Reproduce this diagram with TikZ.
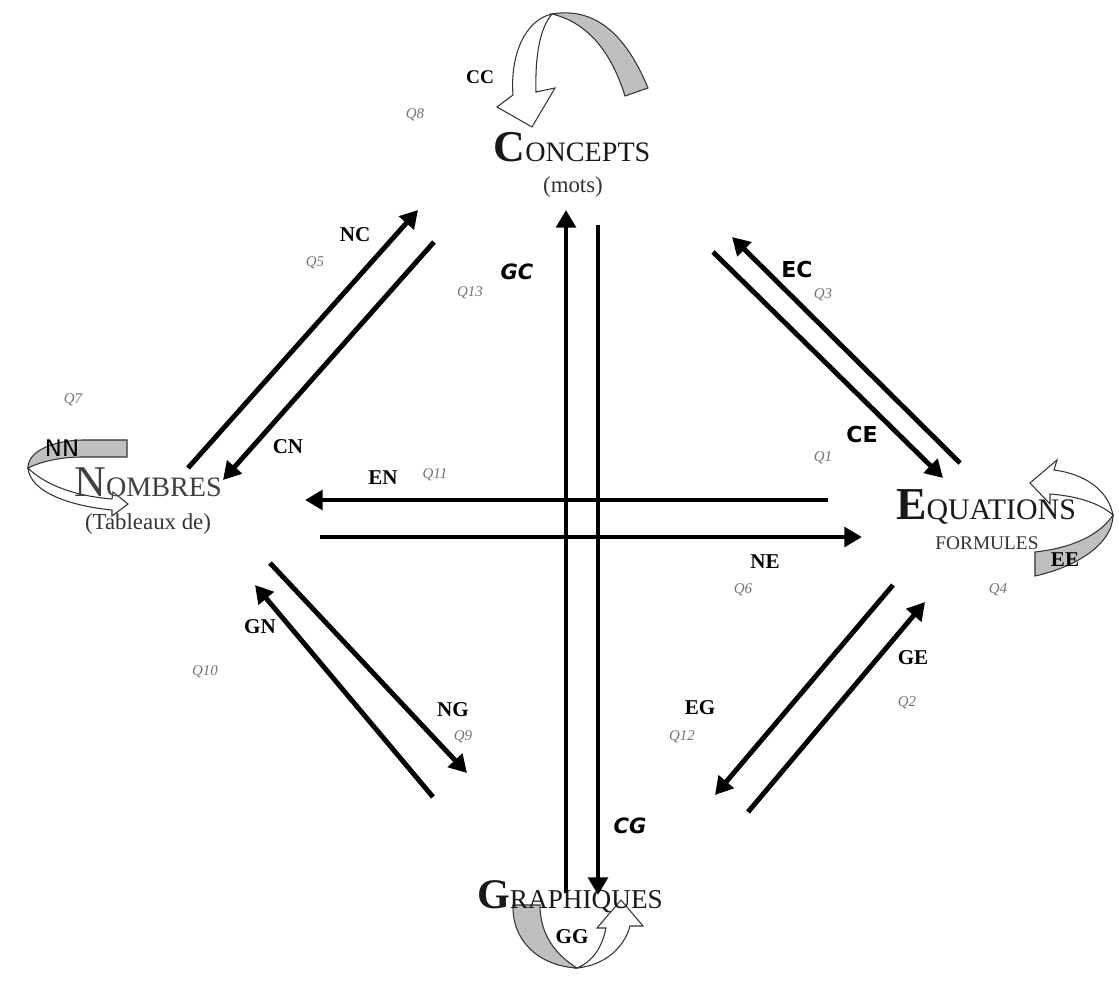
\documentclass[tikz,border=0pt]{standalone}
\usepackage{fontspec}
\setmainfont{Liberation Serif}
\newfontfamily\comicf{DejaVu Sans}
\usetikzlibrary{arrows.meta}
\begin{document}
\begin{tikzpicture}[x=0.02cm,y=-0.02cm,
  conn/.style={line width=2.8pt,-{Triangle[length=10pt,width=11pt]}},
  qlab/.style={inner sep=0pt,font=\fontsize{8.5}{9}\selectfont\itshape,text=black!55},
  blab/.style={inner sep=0pt,font=\fontsize{12}{12}\selectfont\bfseries},
  slab/.style={inner sep=0pt,font=\comicf\bfseries\fontsize{12.5}{12.5}\selectfont},
  olab/.style={inner sep=0pt,font=\comicf\bfseries\itshape\fontsize{12}{12}\selectfont},
  title/.style={inner sep=0pt,anchor=base,text=black!90},
  sub/.style={inner sep=0pt,anchor=base,text=black!80},
  backband/.style={fill=black!25,draw=black!80,line width=0.6pt},
  frontband/.style={fill=white,draw=black!80,line width=0.6pt}]
\useasboundingbox (0,0) rectangle (1119,996);
\fill[white] (0,0) rectangle (1119,996);

% ---- looping arrows
% CC
\path[backband] (648,88) .. controls (622,25) and (588,8) .. (552,14)
   .. controls (585,22) and (610,48) .. (625,96) -- cycle;
\path[frontband] (552,14) .. controls (525,20) and (510,55) .. (513,95)
   -- (497,107) -- (532,127) -- (555,88) -- (536,92)
   .. controls (535,55) and (540,28) .. (552,14) -- cycle;
% NN
\path[backband] (127,440) -- (82,440) .. controls (50,441) and (28,452) .. (28,468)
   .. controls (40,462) and (60,457) .. (82,457) -- (127,457) -- cycle;
\path[frontband] (28,468) .. controls (30,492) and (70,506) .. (112,510)
   -- (112,516) -- (128,504) -- (113,492) -- (112,499)
   .. controls (75,496) and (45,485) .. (28,468) -- cycle;
% EE
\path[frontband] (1030,483) -- (1057,460) -- (1054,470)
   .. controls (1085,474) and (1108,490) .. (1113,515)
   .. controls (1098,502) and (1075,496) .. (1050,494) -- (1050,504) -- cycle;
\path[backband] (1113,515) .. controls (1113,542) and (1080,566) .. (1035,576)
   -- (1035,552) .. controls (1072,548) and (1100,535) .. (1113,515) -- cycle;
% GG
\path[backband] (513,905) .. controls (512,942) and (540,966) .. (577,968)
   .. controls (556,955) and (540,935) .. (540,905) -- cycle;
\path[frontband] (577,968) .. controls (605,965) and (624,948) .. (630,926)
   -- (643,926) -- (621,900) -- (597,928) -- (606,928)
   .. controls (602,948) and (592,962) .. (577,968) -- cycle;

% ---- main nodes
\node[title] (C) at (572,162) {{\fontsize{25}{25}\selectfont\bfseries C}{\fontsize{16}{16}\selectfont ONCEPTS}};
\node[sub,font=\fontsize{13}{13}\selectfont] (Cs) at (573,193) {(mots)};
\node[title,text=black!75] (N) at (148,497) {{\fontsize{25}{25}\selectfont N}{\fontsize{16}{16}\selectfont OMBRES}};
\node[sub,font=\fontsize{13}{13}\selectfont] (Ns) at (148,530) {(Tableaux de)};
\node[title] (E) at (986,520) {{\fontsize{26}{26}\selectfont\bfseries E}{\fontsize{17}{17}\selectfont QUATIONS}};
\node[sub,font=\fontsize{11}{11}\selectfont] (Es) at (987,550) {FORMULES};
\node[title] (G) at (570,908) {{\fontsize{24}{24}\selectfont\bfseries G}{\fontsize{15.5}{15.5}\selectfont RAPHIQUES}};

% ---- arrow end points
\coordinate (nc1) at (188,468); \coordinate (nc2) at (418,210);
\coordinate (cn1) at (434,242); \coordinate (cn2) at (223,480);
\coordinate (ec1) at (960,463); \coordinate (ec2) at (732,237);
\coordinate (ce1) at (713,252); \coordinate (ce2) at (943,478);
\coordinate (ng1) at (270,563); \coordinate (ng2) at (467,773);
\coordinate (gn1) at (433,797); \coordinate (gn2) at (255,585);
\coordinate (eg1) at (893,585); \coordinate (eg2) at (715,795);
\coordinate (ge1) at (748,812); \coordinate (ge2) at (925,602);
\coordinate (gc1) at (566,893); \coordinate (gc2) at (566,210);
\coordinate (cg1) at (598,225); \coordinate (cg2) at (598,895);
\coordinate (en1) at (828,500); \coordinate (en2) at (305,500);
\coordinate (ne1) at (320,537); \coordinate (ne2) at (862,537);

\draw[conn] (nc1) -- (nc2);
\draw[conn] (cn1) -- (cn2);
\draw[conn] (ec1) -- (ec2);
\draw[conn] (ce1) -- (ce2);
\draw[conn] (ng1) -- (ng2);
\draw[conn] (gn1) -- (gn2);
\draw[conn] (eg1) -- (eg2);
\draw[conn] (ge1) -- (ge2);
\draw[conn] (gc1) -- (gc2);
\draw[conn] (cg1) -- (cg2);
\draw[conn] (en1) -- (en2);
\draw[conn] (ne1) -- (ne2);

% ---- labels
\node[blab,font=\fontsize{11}{11}\selectfont\bfseries] (lCC) at (480,77) {CC};
\node[qlab] (q8) at (415,115) {Q8};
\node[blab] (lNC) at (355,235) {NC};
\node[qlab] (q5) at (315,263) {Q5};
\node[qlab] (q13) at (470,293) {Q13};
\node[olab] (lGC) at (517,272) {GC};
\node[slab] (lEC) at (797,270) {EC};
\node[qlab] (q3) at (823,295) {Q3};
\node[slab] (lCE) at (862,435) {CE};
\node[qlab] (q1) at (823,458) {Q1};
\node[qlab] (q7) at (73,400) {Q7};
\node[inner sep=0pt,font=\comicf\fontsize{13}{13}\selectfont] (lNN) at (62,448) {NN};
\node[blab] (lCN) at (288,447) {CN};
\node[blab] (lEN) at (383,478) {EN};
\node[qlab] (q11) at (435,475) {Q11};
\node[blab] (lNE) at (765,562) {NE};
\node[qlab] (q6) at (743,590) {Q6};
\node[blab] (lEE) at (1065,560) {EE};
\node[qlab] (q4) at (998,590) {Q4};
\node[blab] (lGN) at (260,627) {GN};
\node[qlab] (q10) at (205,672) {Q10};
\node[blab] (lNG) at (453,710) {NG};
\node[qlab] (q9) at (463,737) {Q9};
\node[blab] (lEG) at (700,708) {EG};
\node[qlab] (q12) at (682,737) {Q12};
\node[blab] (lGE) at (913,658) {GE};
\node[qlab] (q2) at (907,703) {Q2};
\node[olab] (lCG) at (630,826) {CG};
\node[blab] (lGG) at (572,937) {GG};
\end{tikzpicture}
\end{document}
